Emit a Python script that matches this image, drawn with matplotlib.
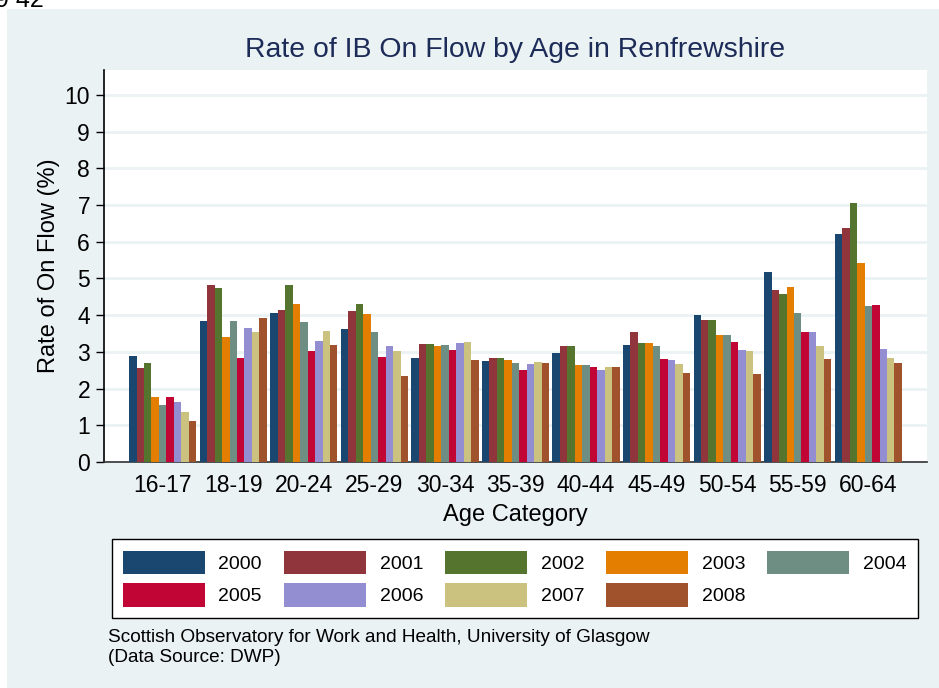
import numpy as np
import matplotlib
matplotlib.use("Agg")
import matplotlib.pyplot as plt
from matplotlib.patches import Rectangle

plt.rcParams["font.family"] = ["Liberation Sans", "DejaVu Sans"]

# Data
ages = ["16-17", "18-19", "20-24", "25-29", "30-34", "35-39",
        "40-44", "45-49", "50-54", "55-59", "60-64"]
years = ["2000", "2001", "2002", "2003", "2004", "2005", "2006", "2007", "2008"]
rate_2000 = [2.89, 3.84, 4.07, 3.63, 2.82, 2.75, 2.98, 3.18, 4.00, 5.19, 6.22]
rate_2001 = [2.57, 4.82, 4.14, 4.12, 3.21, 2.82, 3.16, 3.53, 3.86, 4.68, 6.37]
rate_2002 = [2.71, 4.75, 4.82, 4.30, 3.21, 2.83, 3.15, 3.24, 3.86, 4.58, 7.06]
rate_2003 = [1.77, 3.40, 4.30, 4.04, 3.16, 2.79, 2.63, 3.24, 3.45, 4.76, 5.42]
rate_2004 = [1.56, 3.85, 3.81, 3.55, 3.18, 2.69, 2.65, 3.16, 3.45, 4.05, 4.25]
rate_2005 = [1.76, 2.82, 3.02, 2.85, 3.05, 2.50, 2.59, 2.80, 3.26, 3.54, 4.29]
rate_2006 = [1.64, 3.66, 3.30, 3.15, 3.25, 2.67, 2.50, 2.78, 3.05, 3.54, 3.08]
rate_2007 = [1.36, 3.55, 3.56, 3.03, 3.26, 2.72, 2.59, 2.67, 3.03, 3.15, 2.83]
rate_2008 = [1.13, 3.93, 3.18, 2.35, 2.77, 2.69, 2.59, 2.43, 2.41, 2.81, 2.69]
series = [rate_2000, rate_2001, rate_2002, rate_2003, rate_2004,
          rate_2005, rate_2006, rate_2007, rate_2008]

colors = ["#1A476F", "#90353B", "#55752F", "#E37E00", "#6E8E84",
          "#C10534", "#938DD2", "#CAC27E", "#A0522D"]
bg = "#EAF2F3"

W, H = 939, 688
fig = plt.figure(figsize=(W / 100, H / 100), dpi=100, facecolor="white")

# graph region background (page edge visible top/left)
fig.patches.append(Rectangle((7 / W, 0), 1 - 7 / W, 1 - 9 / H,
                             transform=fig.transFigure, facecolor=bg,
                             edgecolor="none", zorder=-10))
fig.text(-0.005, 1 - 7 / H, "9 42", fontsize=18, va="baseline", color="black")

ax = fig.add_axes([104 / W, (H - 462) / H, (927 - 104) / W, (462 - 70) / H])
ax.set_facecolor("white")

x = np.arange(len(ages))
group_w = 0.953
bw = group_w / len(years)
bars = []
for i, (vals, c, yr) in enumerate(zip(series, colors, years)):
    b = ax.bar(x - group_w / 2 + bw * (i + 0.5), vals, width=bw, color=c,
               label=yr, linewidth=0, zorder=3)
    bars.append(b)

ax.set_xlim(-0.832, len(ages) - 1 + 0.832)
ax.set_ylim(0, 10.68)
ax.set_yticks(range(0, 11))
ax.set_xticks(x)
ax.set_xticklabels(ages)
ax.tick_params(axis="x", length=0, labelsize=16.5, pad=9)
ax.tick_params(axis="y", length=6, width=1, labelsize=16.5, pad=4)
ax.grid(axis="y", color=bg, linewidth=2, zorder=0)
ax.set_axisbelow(True)
for s in ["top", "right"]:
    ax.spines[s].set_visible(False)
ax.spines["left"].set_linewidth(1.2)
ax.spines["bottom"].set_linewidth(1.2)
ax.spines["bottom"].set_color("#333333")

ax.set_xlabel("Age Category", fontsize=17, labelpad=5)
ax.set_ylabel("Rate of On Flow (%)", fontsize=17, labelpad=3)
fig.text(0.5 * (104 + 927) / W, 1 - 50 / H, "Rate of IB On Flow by Age in Renfrewshire",
         fontsize=20.4, color="#1C2B57", ha="center", va="center")

# legend filled row-wise: 2000-2004 on top, 2005-2008 below
order = [0, 5, 1, 6, 2, 7, 3, 8, 4]
leg = fig.legend([bars[k] for k in order], [years[k] for k in order], ncol=5,
                 loc="upper left",
                 bbox_to_anchor=(111.5 / W, 1 - 617 / H, (918 - 111.5) / W, (617 - 539) / H),
                 mode="expand", borderaxespad=0, fontsize=14, handlelength=4.2,
                 handleheight=1.45, handletextpad=0.7, labelspacing=0.5, borderpad=0.6,
                 frameon=True, fancybox=False, edgecolor="black",
                 facecolor="white", framealpha=1)
leg.get_frame().set_linewidth(1.0)

fig.text(108 / W, 1 - 637 / H, "Scottish Observatory for Work and Health, University of Glasgow",
         fontsize=13.7, va="center", ha="left")
fig.text(108 / W, 1 - 658 / H, "(Data Source: DWP)", fontsize=13.7, va="center", ha="left")

fig.savefig("out.png", dpi=100, facecolor=fig.get_facecolor())
